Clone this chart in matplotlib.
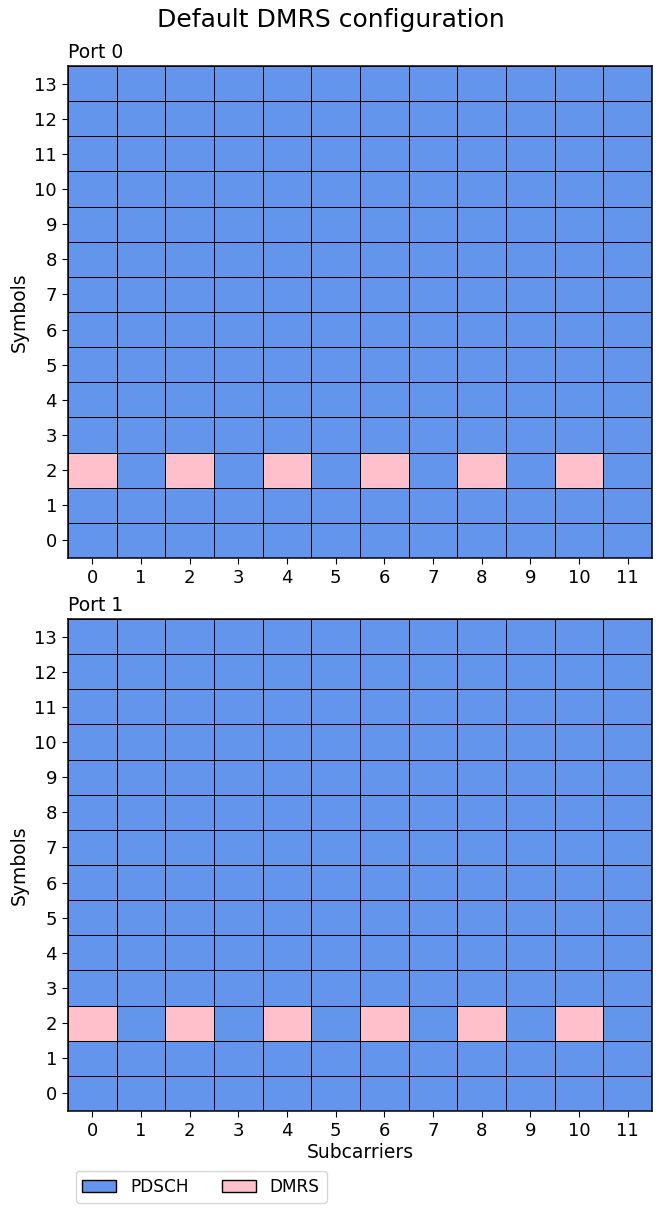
import numpy as np
import matplotlib
matplotlib.use("Agg")
import matplotlib.pyplot as plt
from matplotlib.colors import ListedColormap
from matplotlib.patches import Patch

# Data
n_subcarriers = 12
n_symbols = 14
subcarriers = list(range(n_subcarriers))
symbols = list(range(n_symbols))
ports = ["Port 0", "Port 1"]
dmrs_symbol = [2, 2]                       # DMRS symbol per port
dmrs_subcarriers = [[0, 2, 4, 6, 8, 10],   # port 0
                    [0, 2, 4, 6, 8, 10]]   # port 1
labels = ["PDSCH", "DMRS"]
colors = ["cornflowerblue", "pink"]

cmap = ListedColormap(colors)

fig = plt.figure(figsize=(6.61, 12.11), dpi=100)
left, right = 68 / 661, 652 / 661
ax_rects = [
    [left, 1 - 558 / 1211, right - left, (558 - 66) / 1211],
    [left, 1 - 1111 / 1211, right - left, (1111 - 619) / 1211],
]

for i, port in enumerate(ports):
    ax = fig.add_axes(ax_rects[i])
    grid = np.zeros((n_symbols, n_subcarriers))
    for sc in dmrs_subcarriers[i]:
        grid[dmrs_symbol[i], sc] = 1
    xe = np.arange(n_subcarriers + 1) - 0.5
    ye = np.arange(n_symbols + 1) - 0.5
    ax.pcolormesh(xe, ye, grid, cmap=cmap, vmin=0, vmax=1,
                  edgecolors="black", linewidth=0.5)
    ax.set_xlim(-0.5, n_subcarriers - 0.5)
    ax.set_ylim(-0.5, n_symbols - 0.5)
    ax.set_xticks(subcarriers)
    ax.set_yticks(symbols)
    ax.tick_params(labelsize=13, length=4.5)
    for s in ax.spines.values():
        s.set_linewidth(1.1)
    ax.set_title(port, loc="left", fontsize=13.5, pad=6)
    ax.set_ylabel("Symbols", fontsize=13.5)
    if i == 1:
        ax.set_xlabel("Subcarriers", fontsize=13.5, labelpad=2)

fig.suptitle("Default DMRS configuration", fontsize=18, y=1 - 8 / 1211, va="top")

handles = [Patch(facecolor=c, edgecolor="black", label=l) for c, l in zip(colors, labels)]
fig.legend(handles=handles, loc="upper left", ncol=2, fontsize=12.2,
           bbox_to_anchor=(75.7 / 661, 1 - 1171 / 1211), borderaxespad=0,
           frameon=True)

fig.savefig("out.png", dpi=100)
